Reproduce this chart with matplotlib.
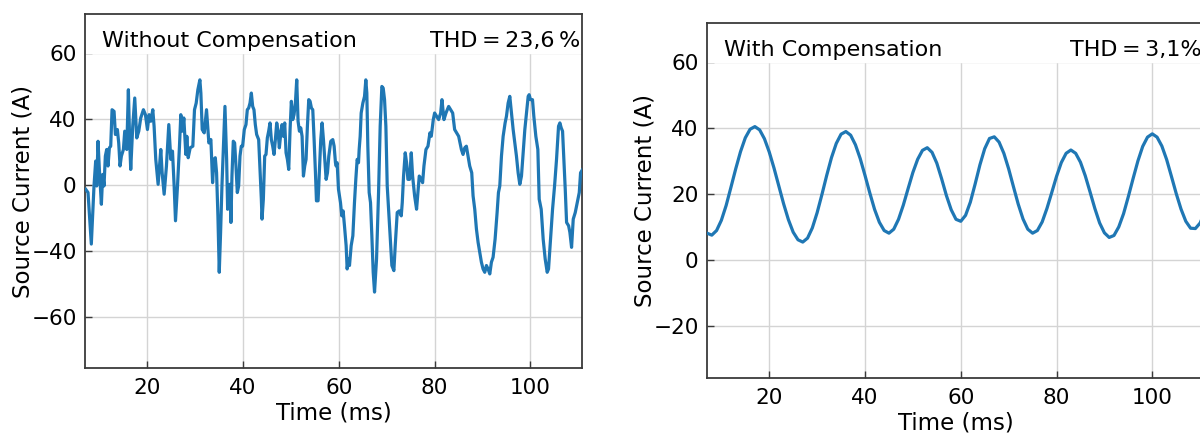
import numpy as np
import matplotlib
matplotlib.use("Agg")
from matplotlib import pyplot as plt

# --- left panel: source current without compensation ---
t_without = [
    7.14, 7.63, 8.32, 8.88, 9.23, 9.44, 9.72, 10.0, 10.42, 10.70, 10.97, 11.25, 11.53, 11.81,
    12.09, 12.37, 12.65, 13.07, 13.35, 13.76, 14.04, 14.32, 14.60, 15.02, 15.30, 15.72, 16.06,
    16.34, 16.55, 16.97, 17.39, 17.81, 18.23, 18.64, 19.20, 19.62, 20.04, 20.39, 20.74, 21.16,
    21.43, 21.78, 22.27, 22.83, 23.11, 23.53, 24.01, 24.50, 24.92, 25.27, 25.62, 25.90, 26.32,
    26.73, 27.01, 27.36, 27.64, 28.06, 28.27, 28.55, 28.97, 29.52, 29.87, 30.22, 30.57, 30.99,
    31.20, 31.48, 31.90, 32.38, 32.87, 33.29,
    33.65, 33.93, 34.21, 34.48, 34.76, 35.04, 35.32, 35.60, 35.95, 36.23, 36.58, 36.79, 37.0,
    37.27, 37.48, 37.69, 37.97, 38.25, 38.53, 38.81, 39.09, 39.37, 39.64, 39.92, 40.27, 40.62,
    40.90, 41.18, 41.46, 41.74, 42.02, 42.29, 42.57, 42.85, 43.27, 43.55, 43.83, 43.97, 44.25,
    44.53, 44.80, 45.08, 45.36, 45.64, 45.92, 46.20, 46.48, 46.76, 47.04, 47.32, 47.59, 47.87,
    48.15, 48.43, 48.71, 48.99, 49.27, 49.55, 49.83, 50.10, 50.38, 50.66, 50.94, 51.22, 51.50,
    51.78, 52.06, 52.34, 52.62, 52.89, 53.17, 53.45, 53.73, 54.01, 54.29, 54.57, 54.85, 55.13,
    55.34, 55.68, 55.96, 56.24, 56.52, 56.80, 57.08, 57.36, 57.64, 57.92, 58.33, 58.75, 59.03,
    59.31,
    59.45, 59.66, 59.94, 60.36, 60.63, 60.91, 61.19, 61.54, 61.75, 62.03, 62.24, 62.59, 62.94,
    63.28, 63.56, 63.84, 64.12, 64.26, 64.47, 64.68, 65.03, 65.38, 65.65, 65.86, 66.07, 66.35,
    66.63, 66.91, 67.19, 67.47, 67.89, 68.31, 68.65, 69.0, 69.28, 69.56, 69.84, 70.12, 70.40,
    70.82, 71.09, 71.51, 71.79, 72.21, 72.63, 73.05, 73.26, 73.53, 73.88, 74.16, 74.44, 74.79,
    75.14, 75.42, 75.84, 76.25, 76.53, 76.81, 77.23, 77.51, 77.79, 78.21, 78.63, 79.04, 79.32,
    79.74, 80.02, 80.44, 80.86, 81.28, 81.55, 81.97, 82.39, 82.95, 83.37, 83.79, 84.20, 84.62,
    85.04,
    85.61, 85.96, 86.31, 86.65, 87.0, 87.35, 87.77, 88.05, 88.40, 88.75, 89.10, 89.44, 89.79,
    90.14, 90.49, 90.84, 91.19, 91.54, 91.88, 92.23, 92.65, 93.07, 93.35, 93.63, 93.98, 94.33,
    94.74, 95.02, 95.37, 95.72, 96.07, 96.42, 96.77, 97.11, 97.46, 97.81, 98.16, 98.51, 98.86,
    99.21, 99.56, 99.76, 100.04, 100.46, 100.74, 101.16, 101.58, 101.86, 102.28, 102.69, 103.11,
    103.53, 103.81, 104.23, 104.65, 105.07, 105.48, 105.90, 106.18, 106.46, 106.74, 107.02,
    107.30, 107.58, 108.0, 108.27, 108.62, 108.97, 109.39, 109.81, 110.23, 110.50, 110.92,
]
i_without = [
    -2.6, -4.6, -35.8, -0.6, 14.5, -0.6, 26.5, 9.4, -11.7, 6.4, -0.6, 17.5, 21.5, 11.5,
    22.5, 23.5, 45.6, 44.6, 30.6, 33.6, 25.5, 11.5, 17.5, 21.5, 32.6, 21.5, 57.7,
    25.5, 9.4, 35.6, 52.7, 28.5, 32.6, 40.6, 45.6, 42.6, 33.6, 42.6, 38.6, 45.6,
    35.6, 15.5, 0.4, 21.5, 7.4, -5.6, 11.5, 36.6, 15.5, 20.5, -0.6, -21.7, -0.6,
    23.5, 42.6, 32.6, 40.6, 18.5, 29.5, 16.5, 22.5, 23.5, 45.6, 49.6, 57.7, 63.7,
    55.7, 33.6, 31.6, 45.6, 25.5, 27.5,
    1.4, 15.5, 16.5, 7.4, -18.7, -52.9, -28.7, -0.6, 25.5, 47.6, 15.5, -14.7, -0.6,
    0.4, -22.7, 5.4, 26.5, 25.5, 11.5, -4.6, -0.6, 17.5, 23.5, 23.5, 33.6, 36.6,
    45.6, 46.6, 49.6, 55.7, 47.6, 45.6, 36.6, 30.6, 27.5, 9.4, -8.6, -20.7, -8.6,
    17.5, 18.5, 28.5, 32.6, 37.6, 27.5, 23.5, 18.5, 27.5, 37.6, 32.6, 22.5, 30.6,
    36.6, 29.5, 37.6, 19.5, 15.5, 9.4, 33.6, 50.7, 39.6, 42.6, 49.6, 63.7, 38.6,
    32.6, 34.6, 29.5, 5.4, 11.5, 15.5, 35.6, 51.7, 50.7, 46.6, 45.6, 27.5, 7.4,
    -9.6, -9.6, 9.4, 27.5, 37.6, 27.5, 15.5, 3.4, 7.4, 17.5, 26.5, 27.5, 23.5,
    13.5,
    11.5, 13.5, -2.6, -10.7, -18.7, -15.7, -24.7, -36.8, -50.9, -44.8, -48.8, -36.8, -30.8,
    -10.7, 3.4, 15.5, 13.5, 21.5, 29.5, 43.6, 49.6, 53.7, 63.7, 55.7, 23.5, -4.6,
    -10.7, -30.8, -52.9, -64.9, -44.8, -4.6, 35.6, 59.7, 58.7, 51.7, 35.6, -0.6, -14.7,
    -36.8, -48.8, -51.9, -36.8, -16.7, -15.7, -18.7, -10.7, 5.4, 19.5, 13.5, 3.4, 3.4,
    19.5, 5.4, -6.6, -14.7, -4.6, 5.4, 3.4, 1.4, 11.5, 21.5, 23.5, 31.6, 29.5,
    39.6, 43.6, 41.6, 39.6, 43.6, 51.7, 39.6, 43.6, 47.6, 45.6, 43.6, 33.6, 31.6,
    29.5,
    21.5, 18.5, 22.5, 23.5, 17.5, 11.5, 7.4, -6.6, -14.7, -26.7, -34.8, -40.8, -46.8,
    -50.9, -52.9, -48.8, -50.9, -53.9, -46.8, -43.8, -32.8, -16.7, -4.6, -0.6, 17.5, 29.5,
    37.6, 41.6, 49.6, 53.7, 43.6, 33.6, 25.5, 17.5, 7.4, 0.4, 5.4, 19.5, 33.6,
    43.6, 53.7, 54.7, 51.7, 51.7, 41.6, 29.5, 21.5, -8.6, -14.7, -32.8, -44.8,
    -52.9, -50.9, -32.8, -14.7, -0.6, 15.5, 35.6, 37.6, 34.6, 32.6, 15.5,
    -2.6, -22.7, -24.7, -28.7, -37.8, -20.7, -16.7, -10.7, -4.6, 7.4, 9.4,
]

# --- right panel: source current with compensation, sampled every 1 ms from 7 to 111 ---
t_with = list(range(7, 112))
i_with = [
    8.1, 7.5, 8.9, 12.0, 16.5, 22.0, 27.6, 32.8, 37.0, 39.6,
    40.4, 39.4, 36.7, 32.7, 27.8, 22.4, 17.0, 12.2, 8.4, 6.1,
    5.4, 6.6, 9.7, 14.3, 19.8, 25.6, 31.0, 35.3, 38.1,
    38.9, 37.8, 34.9, 30.7, 25.6, 20.3, 15.3, 11.4, 8.9,
    8.1, 9.3, 12.3, 16.6, 21.6, 26.5, 30.5, 33.2,
    34.0, 32.6, 29.3, 24.6, 19.5, 15.2, 12.3,
    11.7, 13.5, 17.5, 23.0, 28.8, 33.7, 36.8,
    37.3, 35.7, 32.3, 27.6, 22.2, 16.9, 12.4, 9.3, 8.1,
    8.9, 11.5, 15.6, 20.4, 25.3, 29.5, 32.3, 33.3,
    32.3, 29.6, 25.5, 20.6, 15.6, 11.2, 8.2, 6.8,
    7.4, 10.0, 14.0, 19.2, 24.7, 30.0, 34.4, 37.2, 38.2,
    37.2, 34.5, 30.4, 25.3, 20.1, 15.4, 11.7, 9.6,
    9.5, 11.2, 14.7,
]

# left axis is drawn with equally spaced grid lines labelled as in the source figure
left_yticks = [80, 40, 0, -40, -80]
left_ylabels = ["60", "40", "0", "\u221240", "\u221260"]
right_yticks = [60, 40, 20, 0, -20]
right_ylabels = ["60", "40", "20", "0", "\u221220"]
xticks = [20, 40, 60, 80, 100]

blue = "#1f77b4"
grid_c = "#d4d4d4"
spine_c = "#3a3a3a"

plt.rcParams["font.family"] = ["DejaVu Sans"]

fig = plt.figure(figsize=(12, 4.33), dpi=100)
ax1 = fig.add_axes([85 / 1200, 65 / 433, 497 / 1200, 354 / 433])
ax2 = fig.add_axes([707 / 1200, 55 / 433, 497 / 1200, 355 / 433])


def style(ax, yticks, ylabels, ylim, band_from, title, thd):
    ax.set_xlim(7, 110.8)
    ax.set_ylim(*ylim)
    ax.set_xticks(xticks)
    ax.set_yticks(yticks)
    ax.set_yticklabels(ylabels)
    ax.set_axisbelow(True)
    ax.grid(True, color=grid_c, linewidth=1.0)
    ax.axhspan(band_from, ylim[1], color="white", zorder=1)
    ax.tick_params(direction="in", length=5, width=1, colors=spine_c,
                   labelcolor="black", labelsize=15.5, pad=6)
    ax.tick_params(axis="x", pad=7)
    for s in ax.spines.values():
        s.set_color(spine_c)
        s.set_linewidth(1.3)
    ax.set_xlabel("Time (ms)", fontsize=16.5, labelpad=3)
    ax.set_ylabel("Source Current (A)", fontsize=16.5, labelpad=-2.5)
    ax.text(0.035, 0.908, title, transform=ax.transAxes, fontsize=16,
            ha="left", va="baseline")
    ax.text(0.996, 0.908, thd, transform=ax.transAxes, fontsize=16,
            ha="right", va="baseline")


ax1.plot(t_without, i_without, color=blue, linewidth=2.3, zorder=3)
style(ax1, left_yticks, left_ylabels, (-110.9, 103.6), 80,
      "Without Compensation", "THD\u2009=\u200923,6\u2009%")

ax2.plot(t_with, i_with, color=blue, linewidth=2.3, zorder=3)
style(ax2, right_yticks, right_ylabels, (-35.8, 71.8), 60,
      "With Compensation", "THD\u2009=\u20093,1%")

fig.savefig("out.png", dpi=100, facecolor="white")
